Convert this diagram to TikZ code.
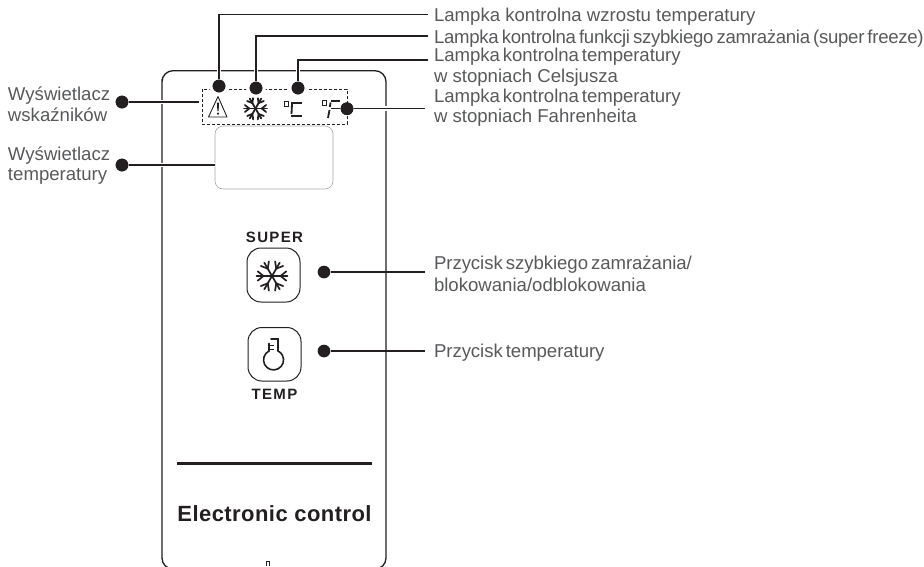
\documentclass[tikz,border=0pt]{standalone}
\usepackage{fontspec}
\setmainfont{Liberation Sans}
\usetikzlibrary{calc}
\definecolor{ink}{HTML}{231F20}
\definecolor{txt}{HTML}{58595B}
\tikzset{
 x=1pt,y=-1pt,
 lab/.style={anchor=base west,inner sep=0pt,outer sep=0pt,align=left,font=\fontsize{18.6}{22}\selectfont,text=txt},
 labt/.style={lab,font=\fontsize{18.6}{22}\selectfont\addfontfeatures{LetterSpace=-0.3},execute at begin node={\spaceskip=3pt\relax}},
 labs/.style={lab,font=\fontsize{18.6}{22}\selectfont\addfontfeatures{LetterSpace=-1.5},execute at begin node={\spaceskip=3pt\relax}},
 leader/.style={draw=ink,line width=1.3pt},
 halo/.style={draw=white,line width=4.5pt},
 dot/.style={circle,fill=ink,minimum size=12.7pt,inner sep=0pt},
 dothalo/.style={circle,fill=white,minimum size=20pt,inner sep=0pt},
 panel/.style={draw=ink,line width=1.3pt,rounded corners=11pt},
 btn/.style={draw=ink,line width=1pt,rounded corners=14pt},
 glyph/.style={draw=ink,line cap=round},
 seg/.style={draw=ink,line width=1.8pt},
 captext/.style={inner sep=0pt,font=\bfseries\fontsize{15}{15}\selectfont\addfontfeatures{LetterSpace=9},text=ink}
}
\newcommand{\flake}[4]{%
 \begin{scope}[shift={(#1,#2)}]
 \foreach \a in {0,60,...,300}{
  \begin{scope}[rotate=\a]
   \draw[glyph,line width=#4] (0,0) -- (#3,0);
   \draw[glyph,line width=#4] ({#3*0.55},0) -- ({#3*0.92},{#3*0.3});
   \draw[glyph,line width=#4] ({#3*0.55},0) -- ({#3*0.92},{-#3*0.3});
  \end{scope}}
 \end{scope}}
\begin{document}
\begin{tikzpicture}
\useasboundingbox (0,0) rectangle (924,566);
% panel
\begin{scope}
\clip (0,0) rectangle (924,566);
\draw[panel] (162,90) -- (162,70.7) -- (386,70.7) -- (386,569) -- (162,569) -- cycle;
\end{scope}
\draw[draw=ink,line width=.6pt,densely dashed] (202,89) rectangle (347,124);
\draw[draw=gray!70,line width=.6pt,rounded corners=8pt] (215,126) rectangle (333,189);
% icons
\draw[draw=ink,line width=.9pt,line join=round] (218,96.5) -- (227,117) -- (208.5,117) -- cycle;
\fill[ink] (216.9,102.5) -- (219.1,102.5) -- (218.6,111) -- (217.4,111) -- cycle;
\fill[ink] (218,113.6) circle (1.2pt);
\flake{255.5}{108.5}{11.5}{1.8pt}
\draw[draw=ink,line width=.8pt] (284,101) rectangle (288,106);
\draw[seg] (291,102.7) -- (302,102.7);
\draw[seg] (292,104) -- (291.5,114);
\draw[seg] (291,115.7) -- (302,115.7);
\draw[draw=ink,line width=.8pt] (322,100.5) rectangle (326,105);
\draw[seg] (331,100.8) -- (340,100.8);
\draw[seg] (330.6,102.5) -- (329.8,107);
\draw[seg] (329.5,110) -- (328,118);
\draw[seg] (331,108.5) -- (340,108.5);
% buttons
\node[captext] (super) at (274.5,237) {SUPER};
\draw[btn] (247,248) rectangle (300,302);
\flake{272}{276}{15.5}{1.7pt}
\draw[btn] (248,327.5) rectangle (301,381);
\node[captext] (temp) at (274.5,394) {TEMP};
\draw[glyph,line width=1.6pt] (271,339) -- (278,339) -- (278,351);
\draw[glyph,line width=1.6pt] (269,343.5) -- (269,351);
\draw[draw=ink,line width=1.6pt] (269,345.5) -- (274,345.5);
\draw[draw=ink,line width=1.6pt] (269,349.5) -- (274,349.5);
\draw[glyph,line width=1.6pt] (269,351) arc[start angle=117,end angle=423,radius=10pt];
% bottom
\draw[draw=ink,line width=3pt] (177,463.3) -- (372,463.3);
\node[anchor=base,inner sep=0pt,font=\bfseries\fontsize{22}{22}\selectfont\addfontfeatures{LetterSpace=2},text=ink] (ec) at (274.5,521) {Electronic control};
\draw[draw=ink,line width=.6pt] (266,566) -- (266,561.5) -- (269.5,561.5) -- (269.5,566);
% dots
\node[dothalo] (h1) at (219,86) {};
\node[dothalo] (h2) at (256,88) {};
\node[dothalo] (h3) at (298,88) {};
\node[dot] (d1) at (219,86) {};
\node[dot] (d2) at (256,88) {};
\node[dot] (d3) at (298,88) {};
\node[dot] (d4) at (347,108.7) {};
\node[dot] (d5) at (122,102) {};
\node[dot] (d6) at (122,165) {};
\node[dot] (d7) at (324,272) {};
\node[dot] (d8) at (324,351) {};
\coordinate (e1) at (428,14.7);
\coordinate (e2) at (428,36);
\coordinate (e3) at (428,60);
\coordinate (e4) at (425,108.7);
\coordinate (e5) at (199,102);
\coordinate (e6) at (215,165);
\coordinate (e7) at (425,272);
\coordinate (e8) at (425,351);
\draw[halo] (d1) |- (e1);
\draw[halo] (d2) |- (e2);
\draw[halo] (d3) |- (e3);
\draw[halo] (d4) -- (e4);
\draw[halo] (d5) -- (e5);
\draw[halo] (d6) -- (e6);
\node[dot] at (d1) {};
\node[dot] at (d2) {};
\node[dot] at (d3) {};
\node[dot] at (d4) {};
\node[dot] at (d5) {};
\node[dot] at (d6) {};
\draw[leader] (d1) |- (e1);
\draw[leader] (d2) |- (e2);
\draw[leader] (d3) |- (e3);
\draw[leader] (d4) -- (e4);
\draw[leader] (d5) -- (e5);
\draw[leader] (d6) -- (e6);
\draw[leader] (d7) -- (e7);
\draw[leader] (d8) -- (e8);
% labels
\node[lab] (l1) at (434,21) {Lampka kontrolna wzrostu temperatury};
\node[labs] (l2) at (434,43) {Lampka kontrolna funkcji szybkiego zamrażania (super freeze)};
\node[labt] (l3) at (434,61) {Lampka kontrolna temperatury};
\node[lab] (l3b) at (434,82) {w stopniach Celsjusza};
\node[labt] (l4) at (434,102) {Lampka kontrolna temperatury};
\node[lab] (l4b) at (434,122) {w stopniach Fahrenheita};
\node[lab] (l5) at (8,100) {Wyświetlacz};
\node[lab] (l5b) at (8,121) {wskaźników};
\node[lab] (l6) at (8,160) {Wyświetlacz};
\node[lab] (l6b) at (8,180) {temperatury};
\node[labt] (l7) at (434,269) {Przycisk szybkiego zamrażania/};
\node[lab] (l7b) at (434,291) {blokowania/odblokowania};
\node[labt] (l8) at (434,357) {Przycisk temperatury};
\end{tikzpicture}
\end{document}
